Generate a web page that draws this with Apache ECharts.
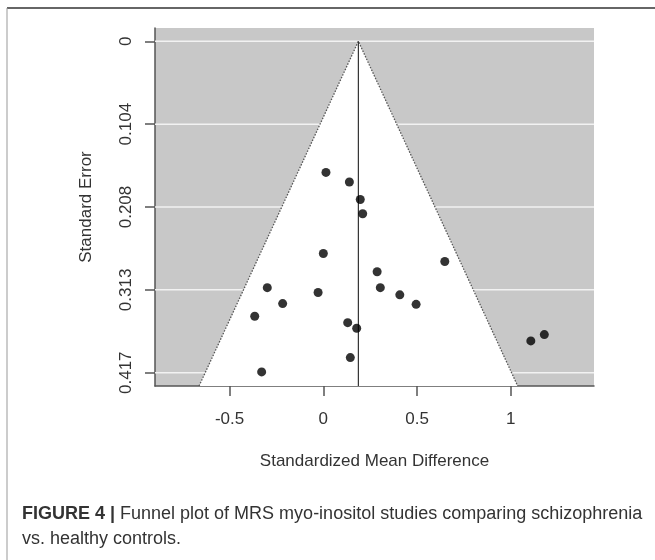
<!DOCTYPE html>
<html>
<head>
<meta charset="utf-8">
<script src="https://cdn.jsdelivr.net/npm/echarts@6/dist/echarts.min.js"></script>
<style>
html,body{margin:0;padding:0;background:#fff;}
#chart{width:655px;height:560px;}
</style>
</head>
<body>
<div id="chart"></div>
<script>
// Data
var effectSizes = [0.014, 0.139, 0.197, 0.210, 0.000, 0.648, 0.287, -0.299, 0.304, -0.028,
                   0.408, -0.217, 0.495, -0.366, 0.130, 0.178, 1.179, 1.107, 0.144, -0.329];
var standardErrors = [0.165, 0.177, 0.199, 0.217, 0.267, 0.277, 0.290, 0.310, 0.310, 0.316,
                      0.319, 0.330, 0.331, 0.346, 0.354, 0.361, 0.369, 0.377, 0.398, 0.416];
var pooledEstimate = 0.187;
var zCrit = 1.96;
var yTickValues = [0, 0.10425, 0.2085, 0.31275, 0.417];
var yTickLabels = ['0', '0.104', '0.208', '0.313', '0.417'];
var xTickValues = [-0.5, 0, 0.5, 1];
var xTickLabels = ['-0.5', '0', '0.5', '1'];
var xTitle = 'Standardized Mean Difference';
var yTitle = 'Standard Error';

var xMin = -0.898, xMax = 1.444;
var yMin = -0.0167, yMax = 0.4337;

var font = '"Liberation Sans", Arial, Helvetica, sans-serif';
var points = effectSizes.map(function (x, i) { return [x, standardErrors[i]]; });

var chart = echarts.init(document.getElementById('chart'), null, {renderer: 'canvas'});

var option = {
  animation: false,
  backgroundColor: '#ffffff',
  grid: {left: 155, right: 61, top: 28, bottom: 174, show: true, backgroundColor: '#c8c8c8', borderWidth: 0},
  xAxis: {
    type: 'value', min: xMin, max: xMax,
    name: xTitle, nameLocation: 'middle', nameGap: 67,
    nameTextStyle: {fontFamily: font, fontSize: 17, color: '#333'},
    axisLine: {show: true, onZero: false, lineStyle: {color: '#555', width: 1.5}},
    axisTick: {show: true, length: 10, customValues: xTickValues, lineStyle: {color: '#555', width: 1.5}},
    axisLabel: {customValues: xTickValues, margin: 25, fontFamily: font, fontSize: 17, color: '#333',
      formatter: function (v) { var i = xTickValues.indexOf(v); return i >= 0 ? xTickLabels[i] : ''; }},
    splitLine: {show: false}
  },
  yAxis: {
    type: 'value', min: yMin, max: yMax, inverse: true,
    name: yTitle, nameLocation: 'middle', nameGap: 60, nameRotate: 90,
    nameTextStyle: {fontFamily: font, fontSize: 17, color: '#333'},
    axisLine: {show: true, onZero: false, lineStyle: {color: '#555', width: 1.5}},
    axisTick: {show: true, length: 10, customValues: yTickValues, lineStyle: {color: '#555', width: 1.5}},
    axisLabel: {customValues: yTickValues, margin: 20, rotate: 90, fontFamily: font, fontSize: 17, color: '#333',
      formatter: function (v) {
        for (var i = 0; i < yTickValues.length; i++) { if (Math.abs(yTickValues[i] - v) < 1e-9) return yTickLabels[i]; }
        return '';
      }},
    splitLine: {show: false}
  },
  series: [
    {
      type: 'custom',
      silent: true,
      clip: true,
      z: 1,
      data: [0],
      renderItem: function (params, api) {
        var children = [];
        yTickValues.forEach(function (t) {
          var p1 = api.coord([xMin, t]), p2 = api.coord([xMax, t]);
          children.push({type: 'line', shape: {x1: p1[0], y1: p1[1], x2: p2[0], y2: p2[1]},
            style: {stroke: '#f2f2f2', lineWidth: 1.5}});
        });
        var apex = api.coord([pooledEstimate, 0]);
        var bl = api.coord([pooledEstimate - zCrit * yMax, yMax]);
        var br = api.coord([pooledEstimate + zCrit * yMax, yMax]);
        children.push({type: 'polygon', shape: {points: [apex, bl, br]}, style: {fill: '#ffffff'}});
        children.push({type: 'polyline', shape: {points: [bl, apex, br]},
          style: {stroke: '#555', lineWidth: 1.3, lineDash: [1.5, 1.5], fill: null}});
        var rb = api.coord([pooledEstimate, yMax]);
        children.push({type: 'line', shape: {x1: apex[0], y1: apex[1], x2: rb[0], y2: rb[1]},
          style: {stroke: '#333', lineWidth: 1.2}});
        return {type: 'group', children: children};
      }
    },
    {
      type: 'scatter',
      z: 3,
      symbol: 'circle',
      symbolSize: 9,
      itemStyle: {color: '#000'},
      data: points
    }
  ],
  graphic: [
    {type: 'line', shape: {x1: 7, y1: 8, x2: 655, y2: 8}, style: {stroke: '#333', lineWidth: 1.5}},
    {type: 'line', shape: {x1: 7, y1: 8, x2: 7, y2: 560}, style: {stroke: '#999', lineWidth: 1}},
    {
      type: 'text', left: 22, top: 502,
      style: {
        text: '{b|FIGURE 4 |} Funnel plot of MRS myo-inositol studies comparing schizophrenia\nvs. healthy controls.',
        font: '18px ' + font,
        fill: '#333',
        lineHeight: 25,
        rich: {b: {fontWeight: 'bold', fontSize: 18, fontFamily: font, fill: '#333', lineHeight: 25}}
      }
    }
  ]
};
chart.setOption(option);
</script>
</body>
</html>
